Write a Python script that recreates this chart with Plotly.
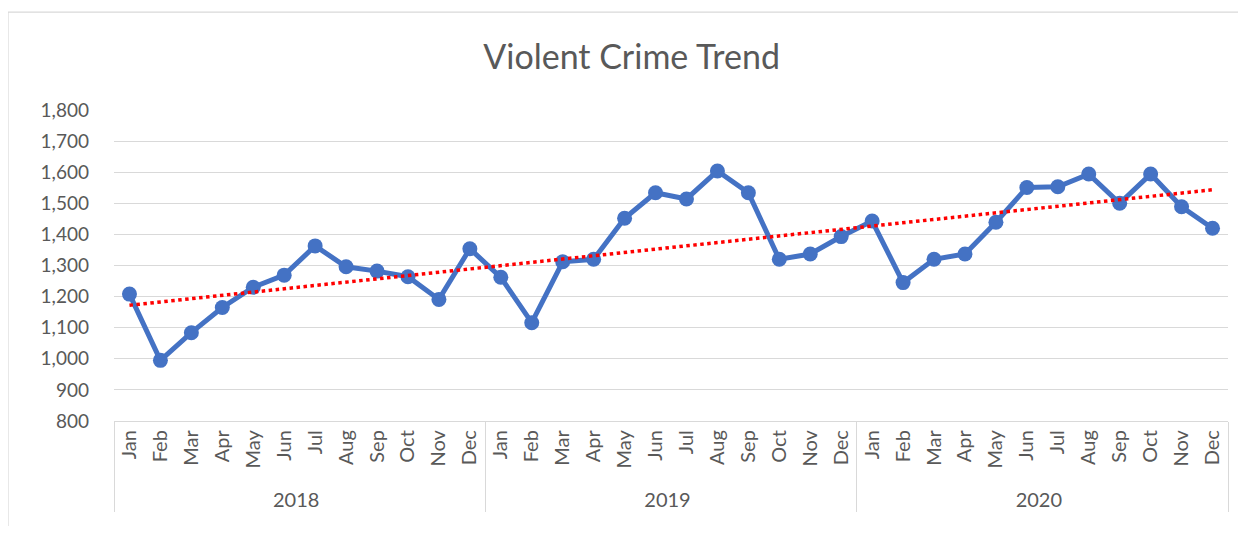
import numpy as np
import plotly.graph_objects as go

years = ["2018"] * 12 + ["2019"] * 12 + ["2020"] * 12
months = ["Jan", "Feb", "Mar", "Apr", "May", "Jun",
          "Jul", "Aug", "Sep", "Oct", "Nov", "Dec"] * 3
crimes = [1208, 995, 1084, 1165, 1230, 1269, 1363, 1296, 1282, 1264, 1191, 1354,
          1262, 1116, 1312, 1320, 1452, 1534, 1514, 1604, 1534, 1320, 1337, 1393,
          1443, 1245, 1320, 1337, 1439, 1551, 1553, 1594, 1500, 1594, 1489, 1420]

# linear trendline, like Excel's
idx = np.arange(1, len(crimes) + 1)
slope, icpt = np.polyfit(idx, crimes, 1)
trend = slope * idx + icpt

fig = go.Figure()
fig.add_trace(go.Scatter(
    x=[years, months], y=crimes, mode="lines+markers",
    line=dict(color="#4472C4", width=5),
    marker=dict(color="#4472C4", size=15),
    showlegend=False, name="Violent Crime"))
fig.add_trace(go.Scatter(
    x=[years, months], y=trend, mode="lines",
    line=dict(color="#FF0000", width=3.5, dash="dot"),
    showlegend=False, name="Trend"))

font = "Lato, 'Open Sans', sans-serif"
# page body has an 8px margin, so the figure is sized/offset for that
fig.update_layout(
    width=1230, height=518,
    margin=dict(l=106, r=10, t=102, b=105),
    paper_bgcolor="white", plot_bgcolor="white",
    title=dict(text="Violent Crime Trend", x=0.507, xanchor="center",
               y=0.905, yanchor="middle",
               font=dict(family=font, size=34, color="#595959")),
    font=dict(family=font, size=19, color="#595959"),
)
fig.update_yaxes(range=[800, 1800], dtick=100, tickformat=",d",
                 showgrid=True, gridcolor="#D9D9D9", gridwidth=1.3,
                 zeroline=False, showline=False, ticks="",
                 ticklabelstandoff=24, automargin=False,
                 tickfont=dict(family=font, size=19, color="#595959"))
fig.update_xaxes(type="multicategory", tickangle=-90, automargin=False,
                 range=[-0.5, 35.5],
                 showline=True, linecolor="#D9D9D9", linewidth=1.3,
                 showdividers=True, dividercolor="#D9D9D9", dividerwidth=1.3,
                 showgrid=False, ticks="",
                 tickfont=dict(family=font, size=20, color="#595959"))

# chart border
fig.add_shape(type="rect", xref="paper", yref="paper",
              x0=-0.0952, x1=1.2, y0=-0.6, y1=1.315,
              line=dict(color="#D9D9D9", width=1.3))

fig.write_html("out.html")
